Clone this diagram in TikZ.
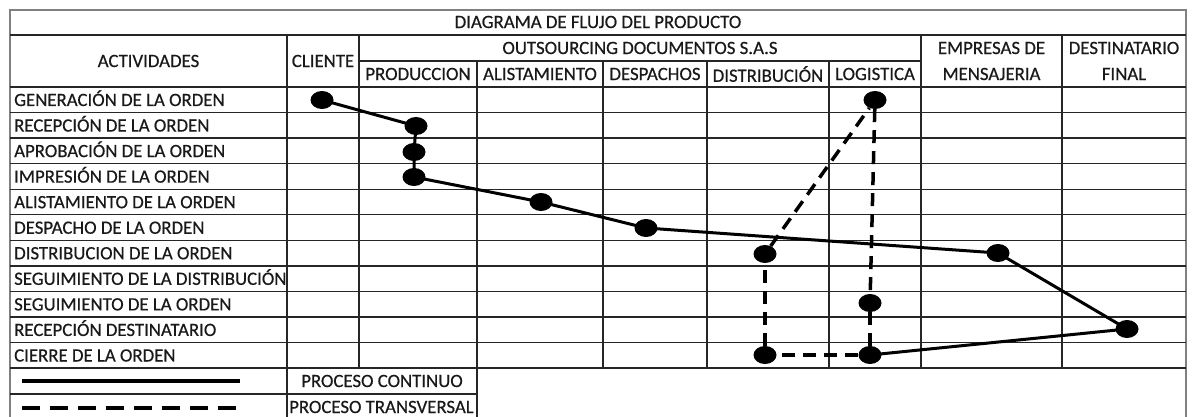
\documentclass[tikz,border=0pt]{standalone}
\usepackage{fontspec}
\setmainfont[FakeBold=0.5]{Carlito}
\usetikzlibrary{shapes.geometric}
\begin{document}
\begin{tikzpicture}[x=1pt,y=-1pt,
  grid/.style={line width=1.3pt, draw=black!85},
  outer/.style={line width=1.3pt, draw=black!50},
  txt/.style={font=\fontsize{18.8}{20}\selectfont, inner sep=0pt, text=black!90},
  dot/.style={ellipse, fill=black, minimum width=23pt, minimum height=18pt, inner sep=0pt},
  cont/.style={line width=3pt, draw=black},
  trans/.style={line width=3.5pt, draw=black, dash pattern=on 13pt off 8pt}]
\useasboundingbox (0,0) rectangle (1196,417);
% outer border
\draw[outer] (10,417) -- (10,10) -- (1186,10) -- (1186,417);
% horizontal lines
\draw[grid] (10,35) -- (1186,35);
\draw[grid] (359,61) -- (921,61);
\foreach \k in {0,...,11} {
  \draw[grid] (10,{87+25.55*\k}) -- (1186,{87+25.55*\k});
}
\draw[grid] (10,394) -- (477,394);
% vertical lines
\draw[grid] (287,35) -- (287,417);
\draw[grid] (359,35) -- (359,368.05);
\foreach \x in {477,603,707,829} { \draw[grid] (\x,61) -- (\x,368.05); }
\draw[grid] (477,368.05) -- (477,417);
\foreach \x in {921,1062} { \draw[grid] (\x,35) -- (\x,368.05); }
% header texts
\node[txt] (title) at (598,22) {DIAGRAMA DE FLUJO DEL PRODUCTO};
\node[txt] (hact) at (148.5,61) {ACTIVIDADES};
\node[txt] (hcli) at (323,61) {CLIENTE};
\node[txt] (hout) at (640,48) {OUTSOURCING DOCUMENTOS S.A.S};
\node[txt] (hpro) at (418,74) {PRODUCCION};
\node[txt] (hali) at (540,74) {ALISTAMIENTO};
\node[txt] (hdes) at (655,74) {DESPACHOS};
\node[txt] (hdis) at (768,74) {DISTRIBUCIÓN};
\node[txt] (hlog) at (875,74) {LOGISTICA};
\node[txt] (hemp1) at (991.5,48) {EMPRESAS DE};
\node[txt] (hemp2) at (991.5,74) {MENSAJERIA};
\node[txt] (hdst1) at (1124,48) {DESTINATARIO};
\node[txt] (hdst2) at (1124,74) {FINAL};
% row labels
\foreach \t [count=\i from 0] in {GENERACIÓN DE LA ORDEN, RECEPCIÓN DE LA ORDEN, APROBACIÓN DE LA ORDEN, IMPRESIÓN DE LA ORDEN, ALISTAMIENTO DE LA ORDEN, DESPACHO DE LA ORDEN, DISTRIBUCION DE LA ORDEN, SEGUIMIENTO DE LA DISTRIBUCIÓN, SEGUIMIENTO DE LA ORDEN, RECEPCIÓN DESTINATARIO, CIERRE DE LA ORDEN} {
  \node[txt, anchor=base west] (r\i) at (14,{87+25.55*\i+19}) {\t};
}
% dots
\node[dot] (d1) at (322,100) {};
\node[dot] (d2) at (416,126) {};
\node[dot] (d3) at (414,152) {};
\node[dot] (d4) at (414,177) {};
\node[dot] (d5) at (541,202) {};
\node[dot] (d6) at (646,228) {};
\node[dot] (d7) at (998,253) {};
\node[dot] (d8) at (1127,329) {};
\node[dot] (d9) at (870,355) {};
\node[dot] (e1) at (765,355) {};
\node[dot] (e2) at (765,254) {};
\node[dot] (e3) at (875,100) {};
\node[dot] (e4) at (870,303) {};
% continuous process
\draw[cont] (d1.center) -- (d2.center) -- (d3.center) -- (d4.center) -- (d5.center) -- (d6.center) -- (d7.center) -- (d8.center) -- (d9.center);
% transversal process
\draw[trans] (d9) -- (e1);
\draw[trans] (e1) -- (e2);
\draw[trans] (e2) -- (e3);
\draw[trans] (e3) -- (e4);
\draw[trans] (e4) -- (d9);
% legend
\coordinate (l1a) at (22,381);
\coordinate (l1b) at (240,381);
\coordinate (l2a) at (22,408);
\coordinate (l2b) at (240,408);
\draw[line width=4pt] (l1a) -- (l1b);
\draw[line width=4pt, dash pattern=on 18pt off 10pt] (l2a) -- (l2b);
\node[txt] (lc) at (382,381) {PROCESO CONTINUO};
\node[txt, anchor=west] (lt) at (289,407) {PROCESO TRANSVERSAL};
\end{tikzpicture}
\end{document}
